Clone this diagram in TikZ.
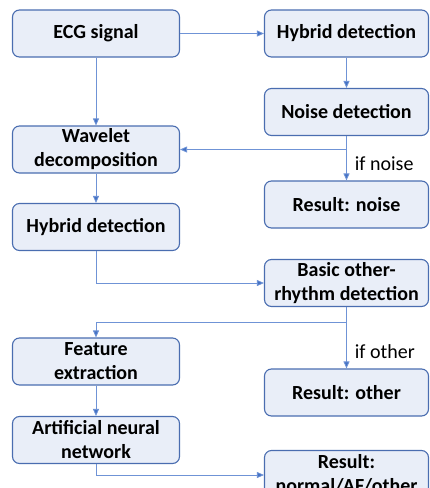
\documentclass[tikz,border=0pt]{standalone}
\usepackage{fontspec}
\setmainfont{Carlito}
\usetikzlibrary{arrows.meta}
\definecolor{boxfill}{HTML}{E9EEF8}
\definecolor{boxline}{HTML}{4A6DB0}
\definecolor{linkline}{HTML}{6F93D6}
\definecolor{tipcol}{HTML}{4472C4}
\tikzset{
  x=1pt, y=-1pt,
  stage/.style={draw=boxline, line width=1.1pt, fill=boxfill, rounded corners=7pt,
    font=\fontsize{20}{24}\selectfont\bfseries, align=center, inner sep=0pt},
  leftbox/.style={stage, minimum width=167pt, minimum height=47pt},
  rightbox/.style={stage, minimum width=164pt, minimum height=47pt},
  link/.style={draw=linkline, line width=0.8pt, -{Triangle[length=7pt,width=6pt,fill=tipcol]}},
  cond/.style={font=\fontsize{20}{24}\selectfont, anchor=west, inner sep=0pt}
}
\begin{document}
\begin{tikzpicture}
\useasboundingbox (0,0) rectangle (430,488);
% left column
\node[leftbox] (ecg) at (96,33.5) {ECG signal};
\node[leftbox] (wav) at (96,149.5) {Wavelet\\decomposition};
\node[leftbox] (hybl) at (96,227) {Hybrid detection};
\node[leftbox] (feat) at (96,361.5) {Feature\\extraction};
\node[leftbox] (ann) at (96,440) {Artificial neural\\network};
% right column
\node[rightbox] (hybr) at (346.5,33.5) {Hybrid detection};
\node[rightbox] (noise) at (346.5,112) {Noise detection};
\node[rightbox] (resn) at (346.5,204.5) {Result: noise};
\node[rightbox] (basic) at (346.5,283) {Basic other-\\rhythm detection};
\node[rightbox] (reso) at (346.5,392.5) {Result: other};
\node[rightbox] (resf) at (346.5,474) {Result:\\normal/AF/other};
% connectors
\draw[link] (ecg) -- (hybr);
\draw[link] (ecg) -- (wav);
\draw[link] (hybr) -- (noise);
\draw[link] (noise.south) |- (wav.east);
\draw[link] (noise) -- (resn) node[cond, pos=0.62, xshift=8pt] {if noise};
\draw[link] (wav) -- (hybl);
\draw[link] (hybl.south) |- (basic.west);
\coordinate (split) at (96,322);
\draw[link] (basic.south) |- (split) -- (feat.north);
\draw[link] (basic) -- (reso) node[cond, pos=0.72, xshift=8pt] {if other};
\draw[link] (feat) -- (ann);
\coordinate (annturn) at (96,475);
\draw[link] (ann.south) -- (annturn) -- (resf.west |- annturn);
\end{tikzpicture}
\end{document}
